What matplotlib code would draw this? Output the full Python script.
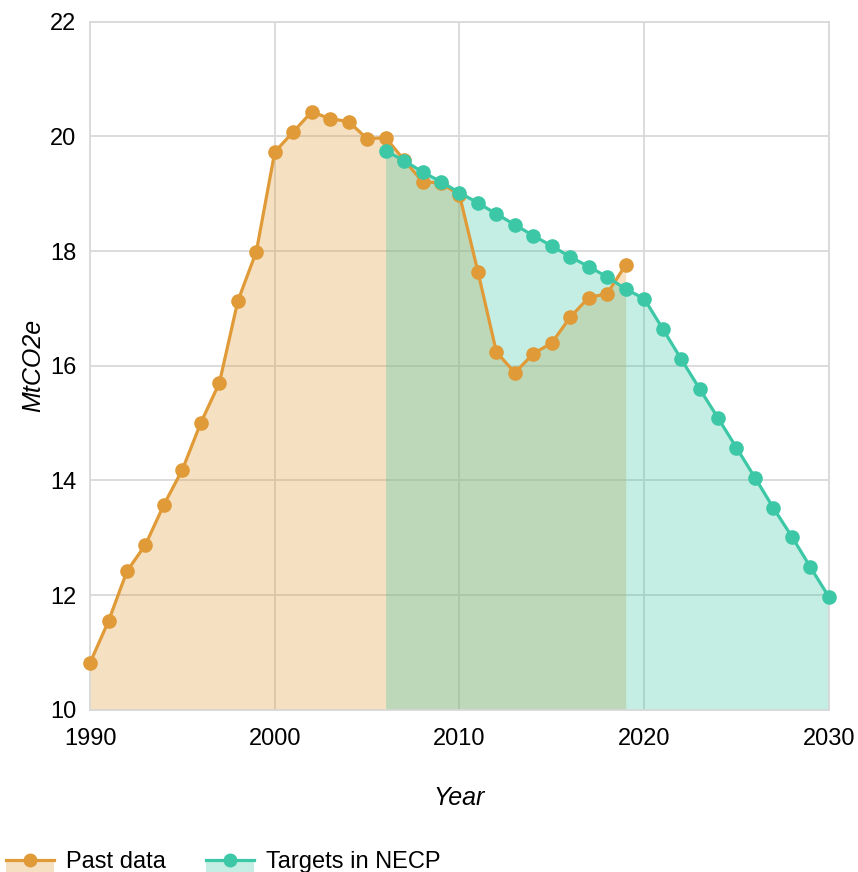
import matplotlib.pyplot as plt
from matplotlib.patches import Patch, Rectangle
from matplotlib.lines import Line2D
from matplotlib.legend_handler import HandlerPatch

plt.rcParams['font.family'] = ['Liberation Sans', 'DejaVu Sans']

# 과거 데이터
past_years = list(range(1990, 2020))
past_values = [10.82, 11.55, 12.42, 12.88, 13.58, 14.19, 15.01, 15.70, 17.13, 17.99,
               19.73, 20.08, 20.43, 20.31, 20.26, 19.96, 19.98, 19.59, 19.21, 19.19,
               18.98, 17.64, 16.24, 15.88, 16.21, 16.40, 16.85, 17.19, 17.26, 17.76]

# NECP 목표
target_years = list(range(2006, 2031))
target_values = [19.75, 19.58, 19.38, 19.21, 19.02, 18.84, 18.65, 18.46, 18.27, 18.09,
                 17.90, 17.73, 17.55, 17.34, 17.17, 16.65, 16.12, 15.60, 15.09, 14.57,
                 14.05, 13.52, 13.02, 12.49, 11.97]

orange = '#E09A37'
teal = '#3CC8A6'
grid_c = '#d9d9d9'

fig = plt.figure(figsize=(8.58, 8.72), dpi=100)
ax = fig.add_axes([0.105, 0.186, 0.861, 0.789])

ax.fill_between(past_years, 10, past_values, color=orange, alpha=0.3, lw=0, zorder=1)
ax.fill_between(target_years, 10, target_values, color=teal, alpha=0.3, lw=0, zorder=1)
ax.plot(past_years, past_values, color=orange, lw=2.3, marker='o', ms=9.5,
        zorder=3, clip_on=False)
ax.plot(target_years, target_values, color=teal, lw=2.3, marker='o', ms=9.5,
        zorder=4, clip_on=False)

ax.set_xlim(1990, 2030)
ax.set_ylim(10, 22)
ax.set_xticks([1990, 2000, 2010, 2020, 2030])
ax.set_yticks([10, 12, 14, 16, 18, 20, 22])
ax.grid(True, color=grid_c, lw=1.3, zorder=0)
ax.set_axisbelow(True)
for s in ax.spines.values():
    s.set_color(grid_c)
    s.set_linewidth(1.3)
ax.tick_params(length=0, labelsize=17)
ax.tick_params(axis='x', pad=13)
ax.tick_params(axis='y', pad=10)
ax.set_xlabel('Year', fontsize=18, style='italic', labelpad=26)
ax.set_ylabel('MtCO2e', fontsize=18, style='italic', labelpad=3)


# 범례: 선 아래쪽에만 채움 표시
def lower_patch(legend, orig_handle, xdescent, ydescent, width, height, fontsize):
    return Rectangle((-xdescent, -ydescent - 0.55 * height), width, 1.05 * height)


h1 = (Patch(facecolor=orange, alpha=0.3, lw=0),
      Line2D([], [], color=orange, lw=2.3, marker='o', ms=9))
h2 = (Patch(facecolor=teal, alpha=0.3, lw=0),
      Line2D([], [], color=teal, lw=2.3, marker='o', ms=9))
fig.legend([h1, h2], ['Past data', 'Targets in NECP'], loc='lower left',
           bbox_to_anchor=(-0.018, -0.026), ncol=2, frameon=False, fontsize=17,
           handlelength=2.05, columnspacing=1.7, handletextpad=0.5,
           handler_map={Patch: HandlerPatch(patch_func=lower_patch)})

fig.savefig('out.png', dpi=100)
